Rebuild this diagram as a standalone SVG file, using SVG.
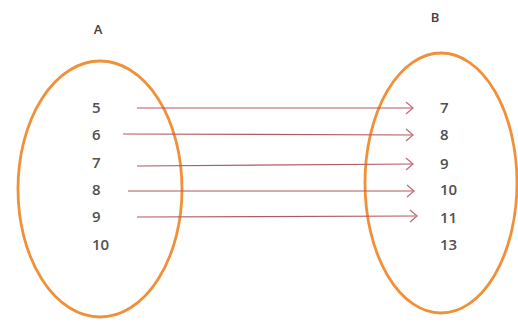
<svg xmlns="http://www.w3.org/2000/svg" width="518" height="322" viewBox="0 0 518 322">
<defs>
<style>
.set{fill:none;stroke:#f0913a;stroke-width:2.8}
.lbl{font-family:"Open Sans","Liberation Sans",sans-serif;font-size:13px;font-weight:600;fill:#404040}
.num{font-family:"Open Sans","Liberation Sans",sans-serif;font-size:15px;font-weight:600;fill:#505050}
.conn line{stroke:#b05a64;stroke-width:1.2;marker-end:url(#ah)}
</style>
<marker id="ah" markerWidth="14" markerHeight="14" refX="12" refY="7" orient="auto" markerUnits="userSpaceOnUse">
<path d="M5,1 L12,7 L5,13" fill="none" stroke="#c0707a" stroke-width="1.3"/>
</marker>
</defs>
<rect width="518" height="322" fill="#ffffff"/>
<g id="setA">
<ellipse class="set" cx="100" cy="189" rx="82" ry="128"/>
<text class="lbl" x="98" y="34" text-anchor="middle">A</text>
<text class="num" x="92" y="113">5</text>
<text class="num" x="92" y="140">6</text>
<text class="num" x="92" y="168">7</text>
<text class="num" x="92" y="195">8</text>
<text class="num" x="92" y="222">9</text>
<text class="num" x="92" y="250">10</text>
</g>
<g id="setB">
<ellipse class="set" cx="441" cy="183" rx="76" ry="130"/>
<text class="lbl" x="435" y="22" text-anchor="middle">B</text>
<text class="num" x="440" y="113">7</text>
<text class="num" x="440" y="140">8</text>
<text class="num" x="440" y="169">9</text>
<text class="num" x="440" y="195">10</text>
<text class="num" x="440" y="223">11</text>
<text class="num" x="440" y="250">13</text>
</g>
<g id="connectors" class="conn">
<line x1="137" y1="108" x2="413" y2="108"/>
<line x1="123" y1="134" x2="413" y2="135"/>
<line x1="137" y1="166" x2="413" y2="164"/>
<line x1="128" y1="191" x2="414" y2="191"/>
<line x1="137" y1="217" x2="417" y2="216"/>
</g>
</svg>
